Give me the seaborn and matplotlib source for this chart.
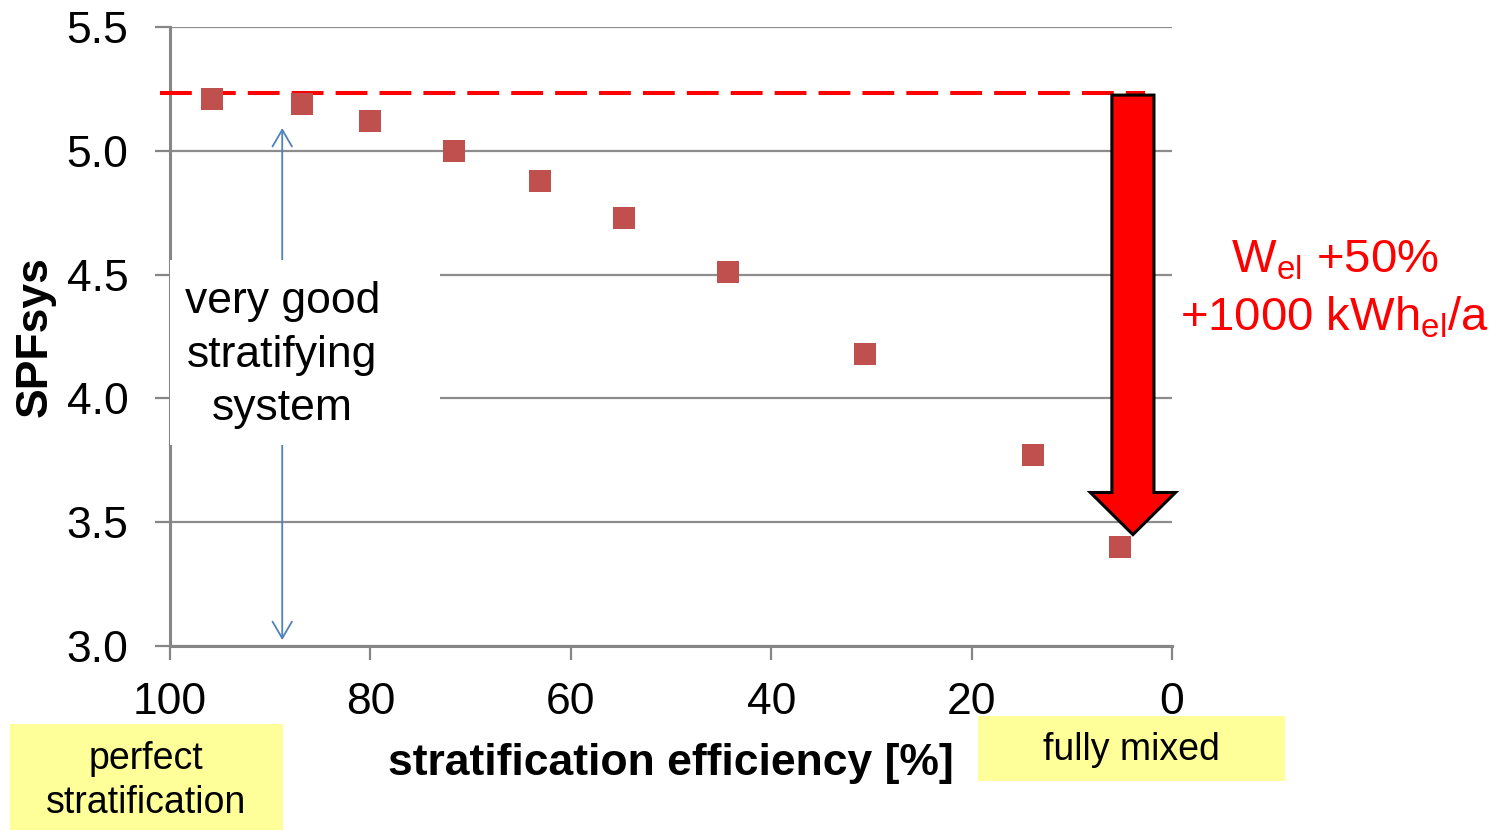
import matplotlib
matplotlib.use("Agg")
import matplotlib.pyplot as plt
from matplotlib.patches import Rectangle, FancyArrow
import seaborn as sns
import pandas as pd

# ---- data ----
strat_eff = [95.8, 86.8, 80.0, 71.7, 63.1, 54.7, 44.3, 30.6, 13.9, 5.2]
spf_sys = [5.21, 5.19, 5.12, 5.00, 4.88, 4.73, 4.51, 4.18, 3.77, 3.40]
baseline_spf = 5.235
arrow_tip_spf = 3.45
x_ticks = [100, 80, 60, 40, 20, 0]
y_ticks = [3.0, 3.5, 4.0, 4.5, 5.0, 5.5]

df = pd.DataFrame({"eff": strat_eff, "spf": spf_sys})

sns.set_style("white")
plt.rcParams["font.family"] = ["Liberation Sans", "DejaVu Sans"]
plt.rcParams["text.color"] = "black"
plt.rcParams["axes.labelcolor"] = "black"
plt.rcParams["xtick.color"] = "black"
plt.rcParams["ytick.color"] = "black"

W, H = 1492, 830
fig = plt.figure(figsize=(W / 100, H / 100), dpi=100)
ax = fig.add_axes([170 / W, 1 - 646 / H, (1172 - 170) / W, (646 - 27) / H])

grid_c = "#8c8c8c"
ax.set_xlim(100, 0)
ax.set_ylim(3.0, 5.5)
ax.set_yticks(y_ticks)
ax.set_yticklabels([f"{v:.1f}" for v in y_ticks])
ax.set_xticks(x_ticks)
ax.set_xticklabels([str(v) for v in x_ticks])
ax.yaxis.grid(True, color=grid_c, lw=1.6)
ax.xaxis.grid(False)
ax.set_axisbelow(True)
for s in ["top", "right"]:
    ax.spines[s].set_visible(False)
for s in ["left", "bottom"]:
    ax.spines[s].set_color("#868686")
    ax.spines[s].set_linewidth(2.2)
ax.tick_params(axis="y", direction="out", length=11, width=1.6, color="#868686",
               labelcolor="black", labelsize=32, pad=19, left=True)
ax.tick_params(axis="x", direction="out", length=10, width=1.6, color="#868686",
               labelcolor="black", labelsize=32, pad=16, bottom=True)

# scatter
sns.scatterplot(data=df, x="eff", y="spf", ax=ax, marker="s", s=230,
                color="#C0504D", linewidth=0, zorder=4, legend=False)

# dashed reference line
ax.plot([101, 2.7], [baseline_spf, baseline_spf], color="#FF0000", lw=2.9,
        dashes=(7.9, 3.0), clip_on=False, zorder=3)

# red big arrow
arr = FancyArrow(3.9, baseline_spf - 0.01, 0, -(baseline_spf - 0.01 - arrow_tip_spf),
                 width=4.2, head_width=8.5, head_length=0.17,
                 length_includes_head=True, facecolor="#FF0000",
                 edgecolor="black", lw=2.2, clip_on=False, zorder=6)
ax.add_patch(arr)

# blue double arrow
ax.annotate("", xy=(88.8, 5.092), xytext=(88.8, 3.024),
            arrowprops=dict(arrowstyle="<->, head_length=0.6, head_width=0.35",
                            color="#4F81BD", lw=1.3, shrinkA=0, shrinkB=0,
                            mutation_scale=20), zorder=3)

# white box with text (x axis inverted -> negative width extends rightwards)
ax.add_patch(Rectangle((100.0, 3.812), -(100.0 - 73.05), 4.559 - 3.812,
                       facecolor="white", edgecolor="none", zorder=5, clip_on=False))
ax.text(88.8, 4.175, "very good\nstratifying\nsystem", ha="center", va="center",
        fontsize=32, linespacing=1.4, zorder=7, color="black")

ax.set_xlabel("stratification efficiency [%]", fontsize=32, fontweight="bold",
              labelpad=14, color="black")
ax.set_ylabel("SPFsys", fontsize=32, fontweight="bold", labelpad=8, color="black")

# red annotation text
fig.text(1335 / W, 1 - 260 / H, r"W$_{\mathregular{el}}$ +50%", color="#FF0000",
         fontsize=34, ha="center", va="center")
fig.text(1335 / W, 1 - 318 / H, r"+1000 kWh$_{\mathregular{el}}$/a", color="#FF0000",
         fontsize=34, ha="center", va="center")

# yellow boxes
fig.add_artist(Rectangle((10 / W, 0), 273 / W, 106 / H, transform=fig.transFigure,
                         facecolor="#FFFF99", edgecolor="none", zorder=0))
fig.text(146 / W, 1 - 781 / H, "perfect\nstratification", ha="center", va="center",
         fontsize=27, linespacing=1.32, color="black")
fig.add_artist(Rectangle((978 / W, 1 - 781 / H), 307 / W, 65 / H, transform=fig.transFigure,
                         facecolor="#FFFF99", edgecolor="none", zorder=0))
fig.text(1131 / W, 1 - 750 / H, "fully mixed", ha="center", va="center", fontsize=27,
         color="black")

fig.savefig("out.png", dpi=100)
